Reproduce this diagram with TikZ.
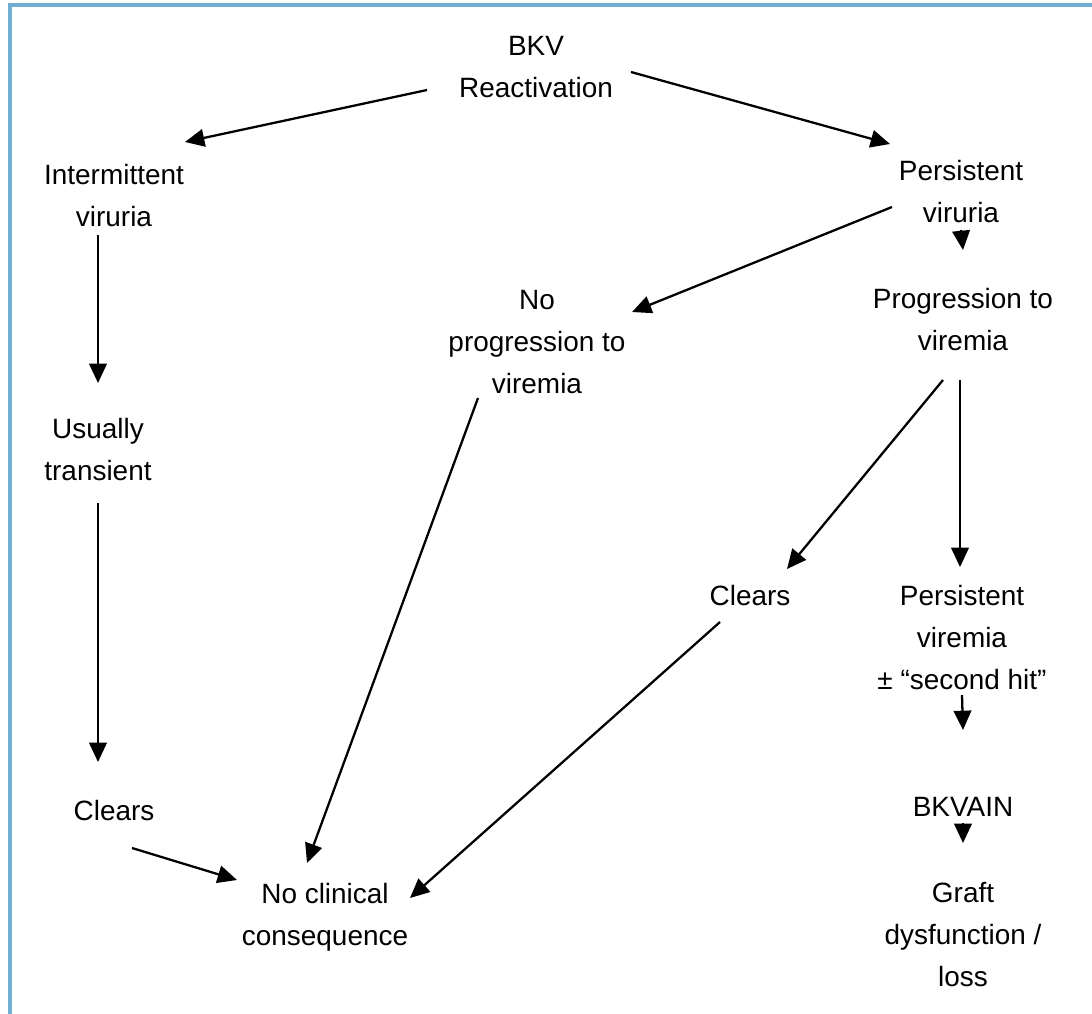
\documentclass[tikz,border=0pt]{standalone}
\usepackage{fontspec}
\setmainfont{Liberation Sans}
\usetikzlibrary{arrows.meta,calc}

\definecolor{framblue}{RGB}{112,174,212}
\tikzset{
  lbl/.style={align=center, inner sep=0pt, anchor=north,
              font=\fontsize{15.9pt}{23.8pt}\selectfont},
  arr/.style={line width=1.3pt, -{Triangle[length=11pt,width=10pt]}}
}

\begin{document}
\begin{tikzpicture}[x=0.02cm, y=-0.02cm]
\useasboundingbox (0,0) rectangle (1092,1014);

% Frame
\draw[framblue, line width=1.8pt] (10,1014) -- (10,5) -- (1092,5);

% Top
\node[lbl] (bkv) at (536,36) {BKV\\Reactivation};

% Left branch
\node[lbl] (inter) at (114,164) {Intermittent\\viruria};
\node[lbl] (usual) at (98,418) {Usually\\transient};
\node[lbl] (clearsl) at (114,800) {Clears};

% Middle
\node[lbl] (noprog) at (537,290) {No\\progression to\\viremia};
\node[lbl] (noclin) at (325,883) {No clinical\\consequence};

% Right branch
\node[lbl] (persu) at (961,160) {Persistent\\viruria};
\node[lbl] (prog) at (963,288) {Progression to\\viremia};
\node[lbl] (clearsm) at (750,585) {Clears};
\node[lbl] (persv) at (962,585) {Persistent\\viremia\\± “second hit”};
\node[lbl] (bkvain) at (963,797) {BKVAIN};
\node[lbl] (graft) at (963,882) {Graft\\dysfunction /\\loss};

% Arrows
\draw[arr] ($(bkv.north)+(-109,54)$) -- ($(inter.north)+(71,-22)$);
\draw[arr] ($(bkv.north)+(95,36)$) -- ($(persu.north)+(-71,-16)$);
\draw[arr] ($(persu.north)+(-69,47)$) -- ($(noprog.north)+(95,22)$);
\draw[arr] ($(persu.north)+(0,70)$) -- ($(prog.north)+(0,-38)$);

\draw[arr] ($(inter.north)+(-16,71)$) -- ($(usual.north)+(0,-35)$);
\draw[arr] ($(usual.north)+(0,85)$) -- ($(clearsl.north)+(-16,-38)$);
\draw[arr] ($(clearsl.north)+(18,48)$) -- ($(noclin.north)+(-88,-3)$);

\draw[arr] ($(noprog.north)+(-59,108)$) -- ($(noclin.north)+(-18,-20)$);
\draw[arr] ($(clearsm.north)+(-30,37)$) -- ($(noclin.north)+(85,15)$);

\draw[arr] ($(prog.north)+(-20,92)$) -- ($(clearsm.north)+(37,-16)$);
\draw[arr] ($(prog.north)+(-3,92)$) -- ($(persv.north)+(-2,-18)$);
\draw[arr] ($(persv.north)+(0,110)$) -- ($(bkvain.north)+(0,-67)$);
\draw[arr] ($(bkvain.north)+(0,26)$) -- ($(graft.north)+(0,-39)$);

\end{tikzpicture}
\end{document}
